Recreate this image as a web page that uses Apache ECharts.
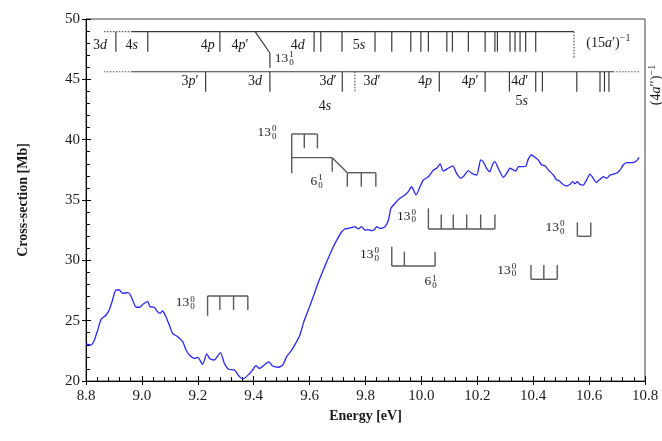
<!DOCTYPE html>
<html>
<head>
<meta charset="utf-8">
<script src="https://cdn.jsdelivr.net/npm/echarts@6/dist/echarts.min.js"></script>
<style>
html, body { margin: 0; padding: 0; background: #fff; }
#chart { width: 662px; height: 441px; }
</style>
</head>
<body>
<div id="chart"></div>
<script>
// Photoabsorption cross-section vs photon energy
const energy = [
  8.800, 8.818, 8.830, 8.842, 8.854, 8.872, 8.883, 8.895, 8.907, 8.919, 8.931, 8.949, 8.957, 8.967, 8.979,
  8.991, 9.005, 9.021, 9.029, 9.044, 9.056, 9.065, 9.074, 9.086, 9.098, 9.110, 9.128, 9.146, 9.158, 9.170,
  9.188, 9.200, 9.217, 9.232, 9.244, 9.259, 9.281, 9.295, 9.310, 9.331, 9.349, 9.363, 9.384, 9.396, 9.408,
  9.420, 9.438, 9.454, 9.468, 9.489, 9.504, 9.518, 9.534, 9.546, 9.565, 9.580, 9.599, 9.613, 9.630, 9.649,
  9.667, 9.685, 9.700, 9.715, 9.726, 9.738, 9.750, 9.762, 9.774, 9.786, 9.798, 9.810, 9.822, 9.832, 9.840,
  9.852, 9.870, 9.882, 9.891, 9.906, 9.923, 9.941, 9.953, 9.965, 9.981, 9.995, 10.007, 10.025, 10.043, 10.055,
  10.067, 10.078, 10.096, 10.112, 10.126, 10.140, 10.152, 10.168, 10.180, 10.198, 10.212, 10.221, 10.233, 10.245, 10.254,
  10.263, 10.275, 10.293, 10.305, 10.317, 10.329, 10.338, 10.347, 10.362, 10.374, 10.382, 10.394, 10.406, 10.418, 10.430,
  10.442, 10.454, 10.472, 10.484, 10.493, 10.506, 10.520, 10.532, 10.541, 10.550, 10.558, 10.567, 10.579, 10.591, 10.603,
  10.615, 10.625, 10.639, 10.651, 10.663, 10.675, 10.687, 10.701, 10.711, 10.722, 10.734, 10.752, 10.770, 10.779
];
const crossSection = [
  23.07, 22.98, 23.40, 24.23, 25.11, 25.47, 25.88, 26.71, 27.54, 27.54, 27.27, 27.32, 27.21, 26.71, 26.11,
  26.11, 26.38, 26.57, 26.16, 26.11, 25.74, 25.61, 25.80, 25.33, 24.64, 23.95, 23.67, 23.26, 22.57, 22.15,
  21.88, 21.96, 21.38, 22.24, 21.82, 21.74, 22.35, 21.47, 20.97, 20.91, 20.36, 20.19, 20.58, 20.91, 21.27,
  21.05, 21.33, 21.58, 21.24, 21.14, 21.33, 22.02, 22.50, 22.95, 23.80, 24.95, 26.10, 26.99, 28.10, 29.20,
  30.20, 31.13, 31.80, 32.37, 32.60, 32.65, 32.72, 32.79, 32.60, 32.79, 32.51, 32.55, 32.46, 32.55, 32.79,
  32.65, 32.79, 33.34, 34.31, 34.73, 35.14, 35.42, 35.69, 36.10, 35.42, 36.10, 36.66, 36.93, 37.49, 37.63,
  38.00, 37.40, 37.63, 37.82, 37.21, 36.80, 36.99, 37.43, 37.21, 37.07, 38.32, 38.18, 37.63, 37.35, 37.90,
  38.18, 37.63, 36.88, 37.21, 37.63, 37.49, 37.40, 37.76, 37.76, 37.80, 38.37, 38.73, 38.54, 38.32, 37.90,
  37.84, 37.49, 37.07, 36.66, 36.60, 36.30, 36.16, 36.30, 36.52, 36.35, 36.52, 36.30, 36.24, 36.66, 37.15,
  36.80, 36.44, 36.72, 36.93, 36.80, 37.07, 37.15, 37.26, 37.49, 37.90, 38.09, 38.09, 38.26, 38.54
];

const xTickLabels = ['8.8', '9.0', '9.2', '9.4', '9.6', '9.8', '10.0', '10.2', '10.4', '10.6', '10.8'];
const yTickLabels = ['20', '25', '30', '35', '40', '45', '50'];

// (15a')^-1 Rydberg series: state energies [eV]
const series15Ticks = [8.907, 9.021, 9.279, 9.616, 9.640, 9.716, 9.834, 9.894, 9.962, 9.998, 10.025,
  10.091, 10.111, 10.168, 10.228, 10.263, 10.272, 10.317, 10.335, 10.353, 10.373, 10.409];
const series15Bend = [9.405, 9.458];          // 13_0^1 vibronic shift of 3d
const series15Limit = 10.546;                 // ionisation limit
const series15Names = ['3d', '4s', '4p', "4p'", '4d', '5s'];
const series15NameE = [8.850, 8.964, 9.236, 9.351, 9.558, 9.777];
const series15NameY = [47.85, 47.85, 47.85, 47.85, 47.85, 47.85];

// (4a'')^-1 Rydberg series
const series4Ticks = [9.228, 9.458, 9.717, 10.064, 10.228, 10.315, 10.409, 10.433, 10.556, 10.639, 10.655, 10.671];
const series4Tentative = [9.762];
const series4Limit = 10.686;
const series4Names = ["3p'", '3d', "3d'", "3d'", '4p', "4p'", "4d'", '4s', '5s'];
const series4NameE = [9.172, 9.405, 9.666, 9.823, 10.013, 10.174, 10.352, 9.655, 10.359];
const series4NameY = [44.80, 44.80, 44.80, 44.80, 44.80, 44.80, 44.80, 42.73, 43.15];

// vibrational progressions
const progA13 = [9.536, 9.581, 9.628];
const progA6 = [9.536, 9.681];
const progA13b = [9.735, 9.785, 9.837];
const progB13 = [9.235, 9.279, 9.328, 9.379];
const progC13 = [10.025, 10.071, 10.114, 10.162, 10.212, 10.263];
const progD13 = [9.894, 9.939, 10.049];
const progE13 = [10.392, 10.438, 10.486];
const progF13 = [10.558, 10.606];

const progLabelBase = ['13', '6', '13', '13', '13', '6', '13', '13', '13'];
const progLabelUp   = ['0', '1', '0', '0', '0', '1', '0', '0', '1'];
const progLabelDown = ['0', '0', '0', '0', '0', '0', '0', '0', '0'];
const progLabelE = [9.448, 9.625, 9.155, 9.947, 9.814, 10.033, 10.305, 10.478, 9.509];
const progLabelY = [40.60, 36.55, 26.49, 33.67, 30.50, 28.23, 29.20, 32.74, 46.74];

// ---------- drawing ----------
const SERIF = "'Liberation Serif', 'Times New Roman', serif";
const TEXT_COLOR = '#1a1a1a';
const LINE_DARK = '#3a3a3a';
const LINE_BRACKET = '#5a5a5a';

const measureCtx = document.createElement('canvas').getContext('2d');
function measure(text, font) { measureCtx.font = font; return measureCtx.measureText(text).width; }

const solid = [], dotted = [], brackets = [];
function seg(arr, x1, y1, x2, y2) { arr.push([x1, y1, x2, y2]); }

// level rows of the two series (in Mb units)
const R1 = 48.95, R1t = 47.29, R2 = 45.63, R2t = 43.98;
seg(dotted, 8.864, R1, 8.965, R1);
seg(solid, 8.965, R1, series15Limit, R1);
series15Ticks.forEach(e => seg(solid, e, R1, e, R1t));
seg(solid, series15Bend[0], R1, series15Bend[1], 47.18);
seg(solid, series15Bend[1], 47.18, series15Bend[1], 45.96);
seg(dotted, series15Limit, R1, series15Limit, 46.69);

seg(dotted, 8.864, R2, 8.965, R2);
seg(solid, 8.965, R2, series4Limit, R2);
seg(dotted, series4Limit, R2, 10.782, R2);
series4Ticks.forEach(e => seg(solid, e, R2, e, R2t));
series4Tentative.forEach(e => seg(dotted, e, R2, e, R2t));

function comb(es, base, firstEnd, restEnd) {
  seg(brackets, es[0], base, es[es.length - 1], base);
  es.forEach((e, i) => seg(brackets, e, base, e, i === 0 ? firstEnd : restEnd));
}
comb(progA13, 40.47, 37.21, 39.28);
seg(brackets, progA6[0], 38.51, progA6[1], 38.51);
seg(brackets, progA6[1], 38.51, progA6[1], 37.35);
seg(brackets, progA6[1], 38.51, progA13b[0], 37.26);
comb(progA13b, 37.26, 36.10, 36.10);
comb(progB13, 27.04, 25.41, 25.88);
comb(progC13, 32.60, 34.31, 33.80);
comb(progD13, 29.53, 31.13, 30.72);
comb(progE13, 28.43, 29.61, 29.61);
comb(progF13, 31.99, 33.14, 33.14);

function segmentSeries(data, style) {
  return {
    type: 'custom', data, silent: true, clip: false,
    encode: { x: [0, 2], y: [1, 3] },
    renderItem(params, api) {
      const a = api.coord([api.value(0), api.value(1)]);
      const b = api.coord([api.value(2), api.value(3)]);
      return { type: 'line', shape: { x1: a[0], y1: a[1], x2: b[0], y2: b[1] }, style: Object.assign({}, style) };
    }
  };
}

const RICH = {
  n: { fontFamily: SERIF, fontSize: 14, color: TEXT_COLOR },
  i: { fontFamily: SERIF, fontSize: 14, fontStyle: 'italic', color: TEXT_COLOR }
};
function richOf(s) {
  let out = '';
  for (const ch of s) {
    if (/[a-z]/.test(ch)) out += '{i|' + ch + '}';
    else out += '{n|' + (ch === "'" ? '\u2032' : ch) + '}';
  }
  return out;
}

function stateLabelSeries(es, ys, names) {
  return {
    type: 'custom', silent: true, clip: false,
    data: es.map((e, i) => [e, ys[i]]),
    encode: { x: 0, y: 1 },
    renderItem(params, api) {
      const p = api.coord([api.value(0), api.value(1)]);
      return {
        type: 'text', x: p[0], y: p[1],
        style: { text: richOf(names[params.dataIndex]), rich: RICH, align: 'center', verticalAlign: 'middle', fill: TEXT_COLOR }
      };
    }
  };
}

const BASE_FONT = '13.5px ' + SERIF;
const SMALL_FONT = '9px ' + SERIF;
const progLabels = {
  type: 'custom', silent: true, clip: false,
  data: progLabelE.map((e, i) => [e, progLabelY[i]]),
  encode: { x: 0, y: 1 },
  renderItem(params, api) {
    const i = params.dataIndex;
    const p = api.coord([api.value(0), api.value(1)]);
    const wb = measure(progLabelBase[i], BASE_FONT);
    const ws = Math.max(measure(progLabelUp[i], SMALL_FONT), measure(progLabelDown[i], SMALL_FONT));
    const x0 = p[0] - (wb + 1 + ws) / 2;
    const st = (text, font) => ({ text, font, fill: TEXT_COLOR, align: 'left', verticalAlign: 'middle' });
    return {
      type: 'group', children: [
        { type: 'text', x: x0, y: p[1], style: st(progLabelBase[i], BASE_FONT) },
        { type: 'text', x: x0 + wb + 1, y: p[1] - 3.5, style: st(progLabelUp[i], SMALL_FONT) },
        { type: 'text', x: x0 + wb + 1, y: p[1] + 4, style: st(progLabelDown[i], SMALL_FONT) }
      ]
    };
  }
};

// series identifiers: (15a')^-1 and (4a'')^-1
const seriesIdE = [10.669, 10.842];
const seriesIdY = [48.0, 44.53];
const seriesIdMain = ["(15a')", "(4a'')"];
const SUP_FONT = '10px ' + SERIF;
const seriesIds = {
  type: 'custom', silent: true, clip: false,
  data: seriesIdE.map((e, i) => [e, seriesIdY[i]]),
  encode: { x: 0, y: 1 },
  renderItem(params, api) {
    const i = params.dataIndex;
    const p = api.coord([api.value(0), api.value(1)]);
    const main = seriesIdMain[i].replace(/'/g, '\u2032');
    const mainRich = richOf(seriesIdMain[i]);
    const wm = measure(main, '14px ' + SERIF);
    const wsup = measure('\u22121', SUP_FONT);
    const total = wm + 1 + wsup;
    return {
      type: 'group', x: p[0], y: p[1], rotation: i === 1 ? Math.PI / 2 : 0,
      children: [
        { type: 'text', x: -total / 2, y: 0, style: { text: mainRich, rich: RICH, align: 'left', verticalAlign: 'middle', fill: TEXT_COLOR } },
        { type: 'text', x: -total / 2 + wm + 1, y: -4.5, style: { text: '\u22121', font: SUP_FONT, fill: TEXT_COLOR, align: 'left', verticalAlign: 'middle' } }
      ]
    };
  }
};

const xBase = { type: 'value', min: 8.8, max: 10.8, interval: 0.2, position: 'bottom', splitLine: { show: false } };
const yBase = { type: 'value', min: 20, max: 50, interval: 5, position: 'left', splitLine: { show: false } };
const axisLineBlack = { show: true, lineStyle: { color: '#000', width: 1 } };

const chart = echarts.init(document.getElementById('chart'), null, { renderer: 'canvas' });
chart.setOption({
  animation: false,
  backgroundColor: '#fff',
  grid: { left: 86, right: 17, top: 19, bottom: 60, show: true, borderColor: '#404040', borderWidth: 1, backgroundColor: 'transparent' },
  xAxis: [
    Object.assign({}, xBase, {
      axisLine: axisLineBlack,
      axisTick: { show: true, inside: false, length: 4, lineStyle: { color: '#000' } },
      axisLabel: {
        margin: 8, fontFamily: SERIF, fontSize: 15, color: TEXT_COLOR,
        formatter: v => xTickLabels[Math.round((v - 8.8) / 0.2)]
      },
      name: 'Energy [eV]', nameLocation: 'middle', nameGap: 17,
      nameTextStyle: { fontFamily: SERIF, fontSize: 14, fontWeight: 'bold', color: TEXT_COLOR }
    }),
    Object.assign({}, xBase, {
      axisLine: { show: false },
      axisTick: { show: true, inside: true, length: 5, lineStyle: { color: '#000' } },
      minorTick: { show: true, splitNumber: 5, length: 4, lineStyle: { color: '#000' } },
      axisLabel: { show: false }
    })
  ],
  yAxis: [
    Object.assign({}, yBase, {
      axisLine: axisLineBlack,
      axisTick: { show: true, inside: false, length: 4, lineStyle: { color: '#000' } },
      axisLabel: {
        margin: 6, fontFamily: SERIF, fontSize: 15, color: TEXT_COLOR,
        formatter: v => yTickLabels[Math.round((v - 20) / 5)]
      },
      name: 'Cross-section [Mb]', nameLocation: 'middle', nameGap: 56,
      nameTextStyle: { fontFamily: SERIF, fontSize: 14, fontWeight: 'bold', color: TEXT_COLOR }
    }),
    Object.assign({}, yBase, {
      axisLine: { show: false },
      axisTick: { show: true, inside: true, length: 5, lineStyle: { color: '#000' } },
      minorTick: { show: true, splitNumber: 5, length: 4, lineStyle: { color: '#000' } },
      axisLabel: { show: false }
    })
  ],
  series: [
    segmentSeries(solid, { stroke: LINE_DARK, lineWidth: 1.2 }),
    segmentSeries(dotted, { stroke: '#555', lineWidth: 1.2, lineDash: [1.5, 1.5] }),
    segmentSeries(brackets, { stroke: LINE_BRACKET, lineWidth: 1.4 }),
    stateLabelSeries(series15NameE, series15NameY, series15Names),
    stateLabelSeries(series4NameE, series4NameY, series4Names),
    progLabels,
    seriesIds,
    {
      type: 'line', name: 'cross-section', silent: true,
      data: energy.map((e, i) => [e, crossSection[i]]),
      showSymbol: false, smooth: 0.2,
      lineStyle: { color: '#2626ff', width: 1.3 },
      z: 5
    }
  ]
});
</script>
</body>
</html>
